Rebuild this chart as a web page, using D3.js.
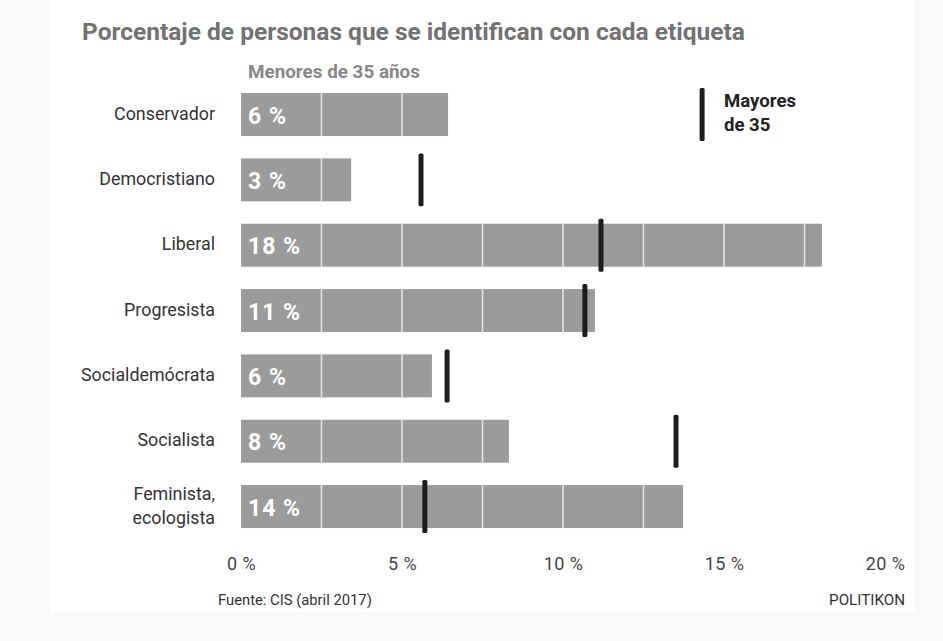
<!DOCTYPE html>
<html><head><meta charset="utf-8">
<script src="https://cdn.jsdelivr.net/npm/d3@7"></script>
<style>body{margin:0;background:#f8f8f8;}svg{display:block;font-family:Roboto,"Liberation Sans",sans-serif;}</style>
</head><body><svg id="c" width="943" height="641"></svg>
<script>
const categories = ["Conservador","Democristiano","Liberal","Progresista","Socialdemócrata","Socialista","Feminista, ecologista"];
const under35 = [6.43, 3.42, 18.04, 10.99, 5.93, 8.32, 13.73];
const over35 = [14.32, 5.59, 11.18, 10.68, 6.40, 13.51, 5.71];
const xTicks = [0, 5, 10, 15, 20];
const gridSteps = [2.5, 5, 7.5, 10, 12.5, 15, 17.5];

const svg = d3.select("#c");
svg.append("rect").attr("x",50).attr("y",0).attr("width",865).attr("height",612).attr("fill","#fff");

const x = d3.scaleLinear().domain([0,20]).range([241,885]);
const y = d3.scaleBand().domain(categories).range([70.7,550.4]).padding(0.342);

function fit(sel, w){ const n=sel.node(); const L=n.getComputedTextLength(); const fs=parseFloat(sel.attr("font-size")); sel.attr("font-size", fs*w/L); return fs*w/L; }

// title
const t = svg.append("text").attr("x",82).attr("y",40).attr("font-size",22).attr("font-weight",700).attr("fill","#727272")
  .text("Porcentaje de personas que se identifican con cada etiqueta");
fit(t,663);
const st = svg.append("text").attr("x",248).attr("y",78).attr("font-size",15).attr("font-weight",700).attr("fill","#878787").text("Menores de 35 años");
fit(st,172);

// bars
const g = svg.append("g");
const rows = g.selectAll("g.row").data(categories).join("g").attr("class","row");
rows.append("rect").attr("x",x(0)).attr("y",d=>y(d)).attr("height",y.bandwidth())
  .attr("width",(d,i)=>x(under35[i])-x(0)).attr("fill","#9c9b9c");
rows.each(function(d,i){
  d3.select(this).selectAll("line.grid").data(gridSteps.filter(v=>v<under35[i])).join("line")
    .attr("x1",v=>x(v)).attr("x2",v=>x(v)).attr("y1",y(d)).attr("y2",y(d)+y.bandwidth())
    .attr("stroke","#e4e4e4").attr("stroke-width",1.6);
});
const fmt = d3.format(".0f");
rows.append("text").attr("x",248).attr("y",d=>y(d)+y.bandwidth()/2+9).attr("font-size",23).attr("font-weight",700)
  .attr("fill","#fff").attr("letter-spacing",1).text((d,i)=>fmt(under35[i])+" %");

// category labels
const lab = svg.append("g").attr("font-size",15).attr("fill","#333").attr("text-anchor","end");
const labT = lab.selectAll("text").data(categories).join("text").attr("x",215)
  .attr("y",d=>y(d)+y.bandwidth()/2+5);
labT.each(function(d){
  const s=d3.select(this); const parts=d.split(" ");
  if(parts.length>1){
    s.append("tspan").attr("x",215).attr("dy",-12).text(parts[0]);
    s.append("tspan").attr("x",215).attr("dy",24).text(parts[1]);
  } else s.text(d);
});
{ const L = labT.filter(d=>d==="Conservador").node().getComputedTextLength(); lab.attr("font-size",15*101/L); }

// markers (mayores de 35)
svg.append("g").selectAll("rect").data(categories).join("rect")
  .attr("x",(d,i)=>x(over35[i])-2.5).attr("width",5).attr("y",d=>y(d)-5).attr("height",y.bandwidth()+10)
  .attr("rx",1.5).attr("fill","#1c1c1c");

// legend text
const lg1 = svg.append("text").attr("x",724).attr("y",107).attr("font-size",16).attr("font-weight",700).attr("fill","#222").text("Mayores");
const lfs = fit(lg1,72);
svg.append("text").attr("x",724).attr("y",131).attr("font-size",lfs).attr("font-weight",700).attr("fill","#222").text("de 35");

// x axis
const ax = svg.append("g").attr("transform","translate(0,570)")
  .call(d3.axisBottom(x).tickValues(xTicks).tickSize(0).tickPadding(0).tickFormat(d=>d+" %"));
ax.select(".domain").remove();
ax.attr("font-family",null).attr("font-size",null);
ax.selectAll("text").attr("dy",0).attr("font-size",18).attr("letter-spacing",0.4).attr("fill","#444");

// footer
const f1 = svg.append("text").attr("x",218).attr("y",605).attr("font-size",14).attr("fill","#333").text("Fuente: CIS (abril 2017)");
fit(f1,154);
const f2 = svg.append("text").attr("x",905).attr("y",605).attr("font-size",14).attr("fill","#333").attr("text-anchor","end").text("POLITIKON");
fit(f2,76);
</script></body></html>
